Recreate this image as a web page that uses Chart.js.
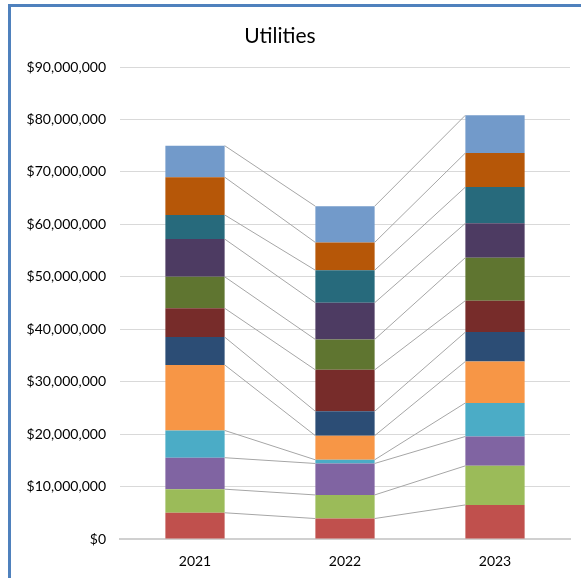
<!DOCTYPE html>
<html>
<head>
<meta charset="utf-8">
<script src="https://cdn.jsdelivr.net/npm/chart.js@4"></script>
<style>
  html, body { margin: 0; padding: 0; background: #fff; overflow: hidden; }
  #frame {
    position: absolute; left: 8px; top: 4px; width: 700px; height: 700px;
    border-left: 3px solid #4f81bd; border-top: 3px solid #4f81bd;
  }
  #wrap { position: absolute; left: 0; top: 0; width: 581px; height: 578px; }
</style>
</head>
<body>
<div id="frame"></div>
<div id="wrap"><canvas id="chart" width="581" height="578"></canvas></div>
<script>
const years = ["2021", "2022", "2023"];
const seriesNames = ["Series 1", "Series 2", "Series 3", "Series 4", "Series 5", "Series 6",
  "Series 7", "Series 8", "Series 9", "Series 10", "Series 11", "Series 12"];
const seriesColors = ["#c0504d", "#9bbb59", "#8064a2", "#4bacc6", "#f79646", "#2c4d75",
  "#772c2a", "#5f7530", "#4d3b62", "#276a7c", "#b65708", "#729aca"];

const s1 = [5000000, 3900000, 6500000];
const s2 = [4500000, 4500000, 7450000];
const s3 = [6000000, 6000000, 5600000];
const s4 = [5200000, 700000, 6400000];
const s5 = [12500000, 4600000, 7900000];
const s6 = [5300000, 4650000, 5600000];
const s7 = [5500000, 7900000, 6000000];
const s8 = [6000000, 5800000, 8200000];
const s9 = [7200000, 7000000, 6550000];
const s10 = [4600000, 6200000, 6900000];
const s11 = [7200000, 5300000, 6500000];
const s12 = [6000000, 6900000, 7200000];
const seriesValues = [s1, s2, s3, s4, s5, s6, s7, s8, s9, s10, s11, s12];

const yTicks = { min: 0, max: 90000000, step: 10000000 };

// grey connectors between the tops of matching segments (Excel "series lines")
const seriesLines = {
  id: "seriesLines",
  afterDatasetsDraw(chart) {
    const ctx = chart.ctx;
    ctx.save();
    ctx.strokeStyle = "#a6a6a6";
    ctx.lineWidth = 1;
    chart.data.datasets.forEach((ds, i) => {
      const bars = chart.getDatasetMeta(i).data;
      for (let j = 0; j < bars.length - 1; j++) {
        const a = bars[j], b = bars[j + 1];
        ctx.beginPath();
        ctx.moveTo(a.x + a.width / 2, a.y);
        ctx.lineTo(b.x - b.width / 2, b.y);
        ctx.stroke();
      }
    });
    ctx.restore();
  }
};

const titleText = {
  id: "titleText",
  afterDraw(chart) {
    const ctx = chart.ctx;
    ctx.save();
    ctx.fillStyle = "#000";
    ctx.font = "21px Lato";
    ctx.textAlign = "center";
    ctx.textBaseline = "middle";
    ctx.fillText("Utilities", 280, 36);
    ctx.restore();
  }
};

new Chart(document.getElementById("chart"), {
  type: "bar",
  data: {
    labels: years,
    datasets: seriesValues.map((vals, i) => ({
      label: seriesNames[i],
      data: vals,
      backgroundColor: seriesColors[i],
      borderWidth: 0,
      categoryPercentage: 1,
      barPercentage: 0.395
    }))
  },
  options: {
    responsive: false,
    animation: false,
    layout: { padding: { left: 0, right: 11, top: 67, bottom: 0 } },
    plugins: { legend: { display: false }, tooltip: { enabled: false } },
    scales: {
      x: {
        stacked: true,
        grid: { display: false, drawTicks: false },
        border: { color: "#d0d0d0", width: 2 },
        ticks: { color: "#000", font: { family: "Lato", size: 14 }, padding: 14 },
        afterFit(scale) { scale.height = 39; }
      },
      y: {
        stacked: true,
        min: yTicks.min,
        max: yTicks.max,
        grid: { color: "#d9d9d9", drawTicks: false },
        border: { display: false },
        ticks: {
          stepSize: yTicks.step,
          color: "#000",
          font: { family: "Lato", size: 14 },
          padding: 14,
          callback: v => "$" + v.toLocaleString("en-US")
        },
        afterFit(scale) { scale.width = 120; }
      }
    }
  },
  plugins: [seriesLines, titleText]
});
</script>
</body>
</html>
